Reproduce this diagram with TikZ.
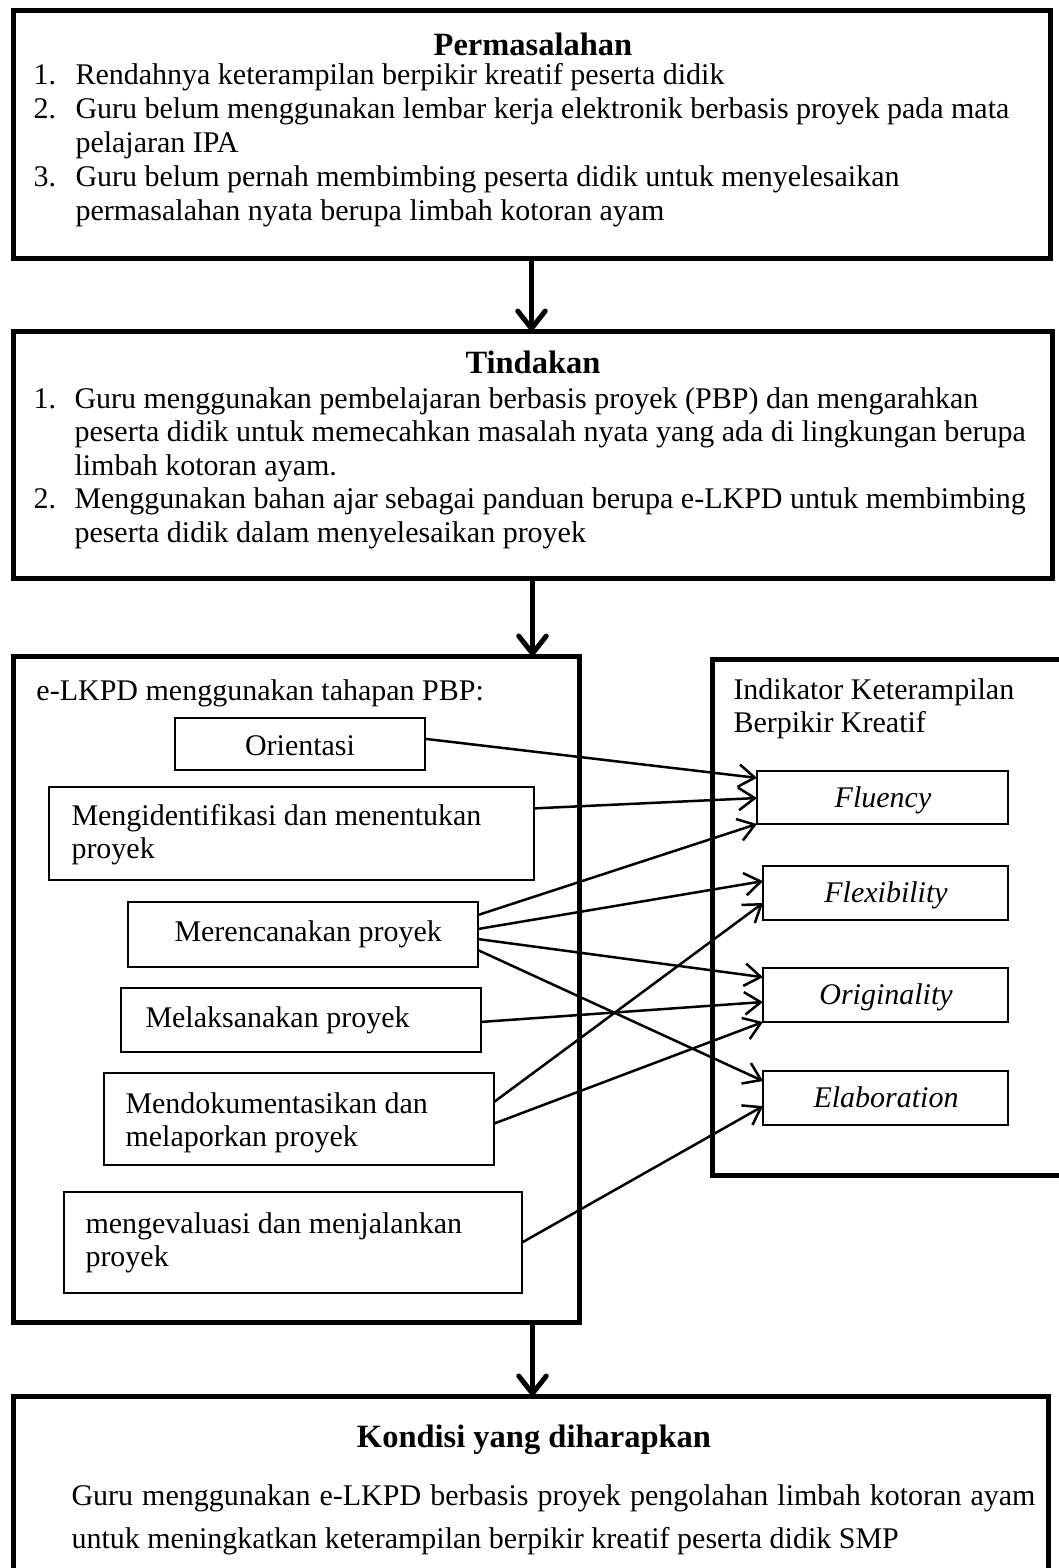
\documentclass[tikz,border=0pt]{standalone}
\usepackage{fontspec}
\setmainfont{Liberation Serif}
\usetikzlibrary{arrows.meta,calc,fit}
\begin{document}
\begin{tikzpicture}[x=0.4pt,y=-0.4pt,
  obox/.style={draw, line width=2pt, inner sep=0pt, outer sep=0pt},
  ibox/.style={draw, line width=1pt, inner sep=0pt, outer sep=0pt},
  ttl/.style={font=\bfseries\fontsize{13}{14}\selectfont, inner sep=0pt, anchor=base},
  ln/.style={font=\fontsize{12}{13.5}\selectfont, inner sep=0pt, anchor=base west},
  lnc/.style={font=\fontsize{12}{13.5}\selectfont, inner sep=0pt, anchor=base},
  ital/.style={font=\itshape\fontsize{12}{13.5}\selectfont, inner sep=0pt, anchor=base},
  mainarrow/.style={line width=2pt, -{Straight Barb[length=7pt,width=11pt,round]}},
  conn/.style={line width=1pt, -{Straight Barb[length=6.5pt,width=9pt]}}]
\useasboundingbox (0,0) rectangle (1059,1568);
\clip (0,0) rectangle (1059,1568);

% ---------- Permasalahan ----------
\node[obox, fit={(13,10) (1050,258)}] (perm) {};
\node[ttl] (permT) at (533,55) {Permasalahan};
\node[ln] (pn1) at (33,84) {1.};
\node[ln] (pl1) at (75,84) {Rendahnya keterampilan berpikir kreatif peserta didik};
\node[ln] (pn2) at (33,118) {2.};
\node[ln] (pl2) at (75,118) {Guru belum menggunakan lembar kerja elektronik berbasis proyek pada mata};
\node[ln] (pl3) at (75,152) {pelajaran IPA};
\node[ln] (pn3) at (33,186) {3.};
\node[ln] (pl4) at (75,186) {Guru belum pernah membimbing peserta didik untuk menyelesaikan};
\node[ln] (pl5) at (75,220) {permasalahan nyata berupa limbah kotoran ayam};

% ---------- Tindakan ----------
\node[obox, fit={(13,331) (1052,578)}] (tind) {};
\node[ttl] (tindT) at (533,373) {Tindakan};
\node[ln] (tn1) at (33,408) {1.};
\node[ln] (tl1) at (74,408) {Guru menggunakan pembelajaran berbasis proyek (PBP) dan mengarahkan};
\node[ln] (tl2) at (74,441.5) {peserta didik untuk memecahkan masalah nyata yang ada di lingkungan berupa};
\node[ln] (tl3) at (74,475) {limbah kotoran ayam.};
\node[ln] (tn2) at (33,508.5) {2.};
\node[ln] (tl4) at (74,508.5) {Menggunakan bahan ajar sebagai panduan berupa e-LKPD untuk membimbing};
\node[ln] (tl5) at (74,542) {peserta didik dalam menyelesaikan proyek};

% ---------- e-LKPD box ----------
\node[obox, fit={(13,656) (579,1322)}] (lkpd) {};
\node[ln] (lkpdT) at (36,700) {e-LKPD menggunakan tahapan PBP:};

\node[ibox, fit={(175,718) (425,770)}] (ori) {};
\node[lnc] (oriT) at (300,755) {Orientasi};
\node[ibox, fit={(49,787) (534,880)}] (ide) {};
\node[ln] (ideT1) at (71,825) {Mengidentifikasi dan menentukan};
\node[ln] (ideT2) at (71,858) {proyek};
\node[ibox, fit={(128,902) (478,967)}] (mer) {};
\node[ln] (merT) at (174,941) {Merencanakan proyek};
\node[ibox, fit={(121,988) (481,1052)}] (mel) {};
\node[ln] (melT) at (145,1027) {Melaksanakan proyek};
\node[ibox, fit={(104,1073) (494,1165)}] (dok) {};
\node[ln] (dokT1) at (125,1113) {Mendokumentasikan dan};
\node[ln] (dokT2) at (125,1146) {melaporkan proyek};
\node[ibox, fit={(64,1192) (522,1293)}] (eva) {};
\node[ln] (evaT1) at (85,1233) {mengevaluasi dan menjalankan};
\node[ln] (evaT2) at (85,1266) {proyek};

% ---------- Indikator box ----------
\node[obox, fit={(712,659) (1066,1175)}] (indi) {};
\node[ln] (indiT1) at (733,699) {Indikator Keterampilan};
\node[ln] (indiT2) at (733,732) {Berpikir Kreatif};

\node[ibox, fit={(757,771) (1008,824)}] (flu) {};
\node[ital] (fluT) at (883,807) {Fluency};
\node[ibox, fit={(763,866) (1008,920)}] (fle) {};
\node[ital] (fleT) at (886,902.5) {Flexibility};
\node[ibox, fit={(763,968) (1008,1022)}] (org) {};
\node[ital] (orgT) at (886,1004.5) {Originality};
\node[ibox, fit={(763,1071) (1008,1125)}] (ela) {};
\node[ital] (elaT) at (886,1107.5) {Elaboration};

% ---------- Kondisi ----------
\node[obox, fit={(13,1396) (1048,1590)}] (kond) {};
\node[ttl] (kondT) at (534,1447) {Kondisi yang diharapkan};
\node[ln] (kl1) at (71,1505) {\makebox[385.6pt][s]{Guru menggunakan e-LKPD berbasis proyek pengolahan limbah kotoran ayam}};
\node[ln] (kl2) at (71,1548) {untuk meningkatkan keterampilan berpikir kreatif peserta didik SMP};

% ---------- main arrows ----------
\draw[mainarrow] (perm.south) -- (perm.south |- tind.north);
\draw[mainarrow] (tind.south) -- (tind.south |- lkpd.north);
\draw[mainarrow] (tind.south |- lkpd.south) -- (tind.south |- kond.north);

% ---------- connectors ----------
\draw[conn] ($(ori.north east)!0.40!(ori.south east)$) -- ($(flu.north west)!0.13!(flu.south west)$);
\draw[conn] ($(ide.north east)!0.23!(ide.south east)$) -- ($(flu.north west)!0.51!(flu.south west)$);
\draw[conn] ($(mer.north east)!0.20!(mer.south east)$) -- (flu.south west);
\draw[conn] ($(mer.north east)!0.415!(mer.south east)$) -- ($(fle.north west)!0.28!(fle.south west)$);
\draw[conn] ($(mer.north east)!0.57!(mer.south east)$) -- ($(org.north west)!0.17!(org.south west)$);
\draw[conn] ($(mer.north east)!0.74!(mer.south east)$) -- ($(ela.north west)!0.185!(ela.south west)$);
\draw[conn] ($(mel.north east)!0.53!(mel.south east)$) -- ($(org.north west)!0.63!(org.south west)$);
\draw[conn] ($(dok.north east)!0.315!(dok.south east)$) -- ($(fle.north west)!0.685!(fle.south west)$);
\draw[conn] ($(dok.north east)!0.55!(dok.south east)$) -- (org.south west);
\draw[conn] ($(eva.north east)!0.50!(eva.south east)$) -- ($(ela.north west)!0.65!(ela.south west)$);
\end{tikzpicture}
\end{document}
